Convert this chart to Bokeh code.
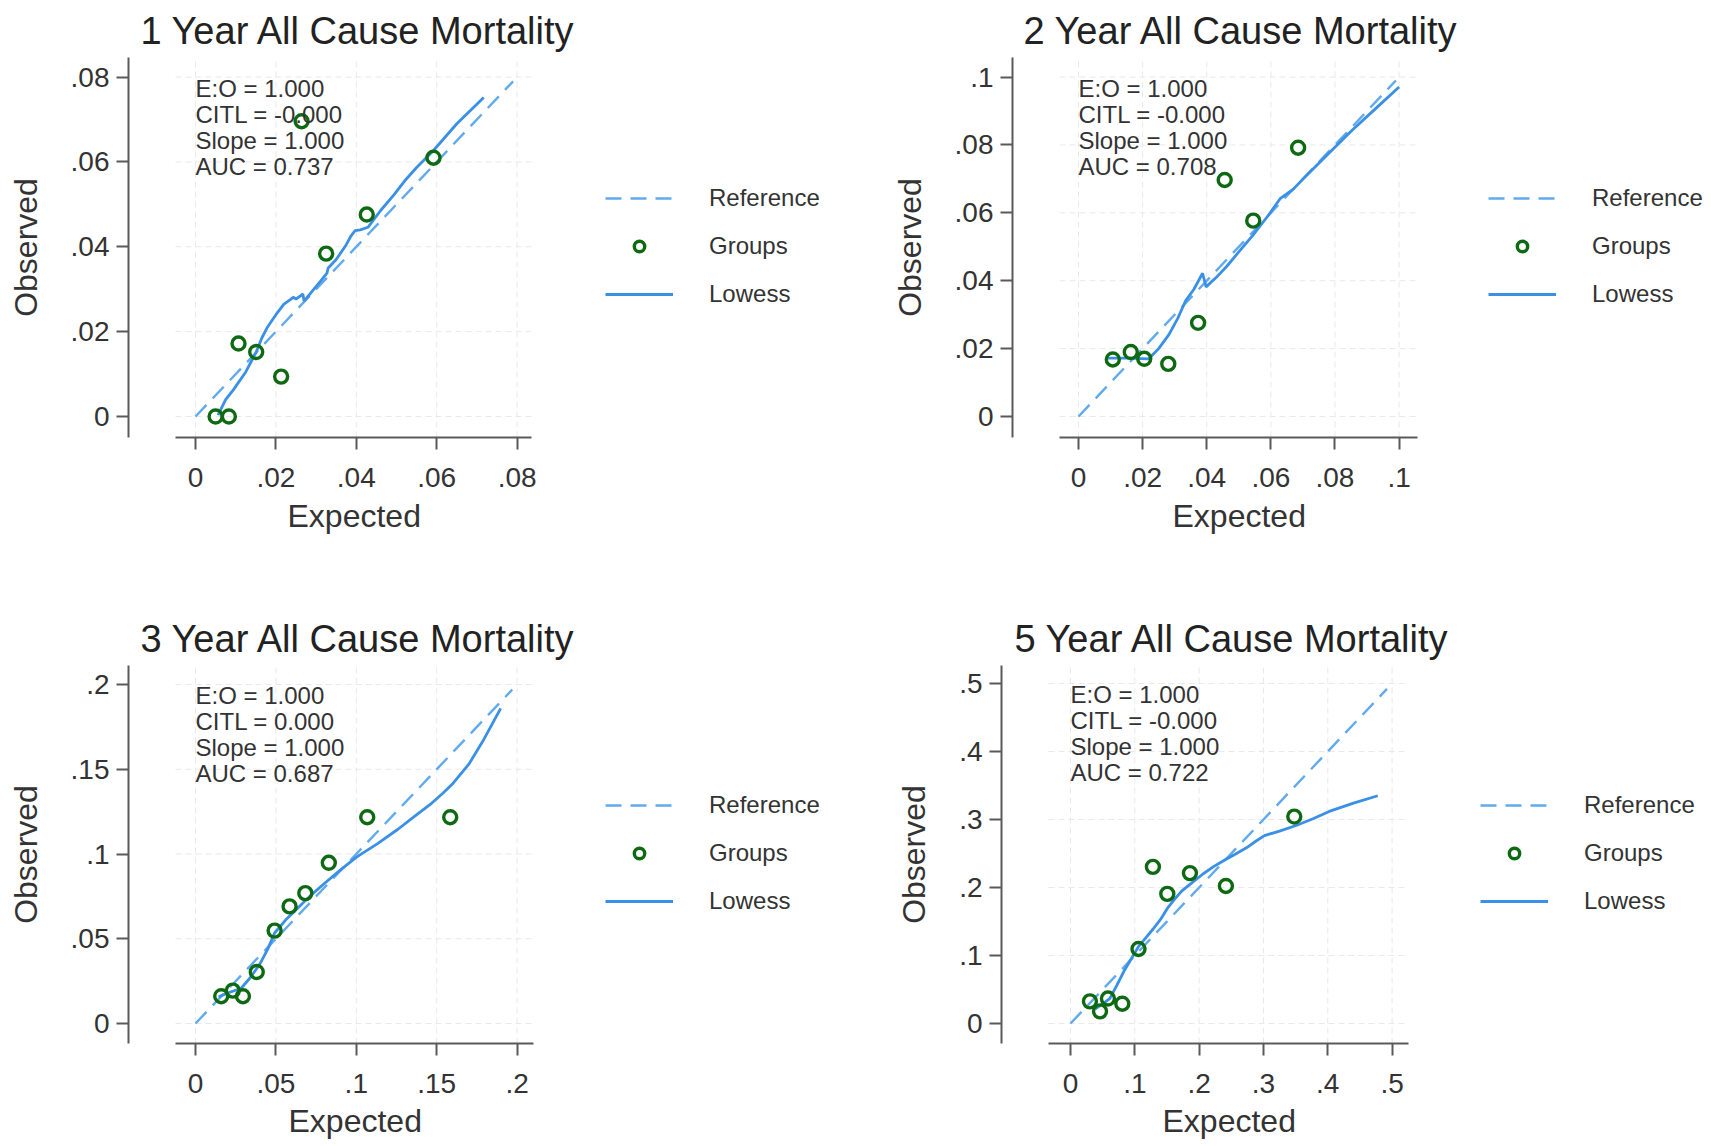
from bokeh.plotting import figure
from bokeh.models import FixedTicker, Label, Legend, LegendItem, Range1d, Title
from bokeh.layouts import column, row
from bokeh.embed import file_html
from bokeh.resources import INLINE

FONT = "Liberation Sans"

# ---------------- data ----------------
titles = ["1 Year All Cause Mortality", "2 Year All Cause Mortality",
          "3 Year All Cause Mortality", "5 Year All Cause Mortality"]
legend_labels = ["Reference", "Groups", "Lowess"]
x_axis_title = "Expected"
y_axis_title = "Observed"

# Panel 1 : 1 year
p1_ticks = [0, 0.02, 0.04, 0.06, 0.08]
p1_tick_labels = ["0", ".02", ".04", ".06", ".08"]
p1_group_expected = [0.0050, 0.0083, 0.0107, 0.0151, 0.0213, 0.0264, 0.0325, 0.0426, 0.0592]
p1_group_observed = [0.0000, 0.0000, 0.0172, 0.0152, 0.0094, 0.0696, 0.0384, 0.0476, 0.0610]
p1_lowess_expected = [0.0056, 0.0075, 0.0095, 0.0125, 0.0151, 0.0165, 0.0178, 0.0200, 0.0220,
                      0.0235, 0.0243, 0.0250, 0.0262, 0.0267, 0.0270, 0.0290, 0.0310, 0.0327,
                      0.0330, 0.0350, 0.0375, 0.0387, 0.0397, 0.0410, 0.0429, 0.0460, 0.0494,
                      0.0520, 0.0550, 0.0592, 0.0650, 0.0717]
p1_lowess_observed = [0.0003, 0.0040, 0.0064, 0.0105, 0.0152, 0.0185, 0.0209, 0.0240, 0.0265,
                      0.0275, 0.0281, 0.0277, 0.0285, 0.0289, 0.0272, 0.0295, 0.0318, 0.0338,
                      0.0350, 0.0370, 0.0405, 0.0426, 0.0438, 0.0440, 0.0446, 0.0485, 0.0523,
                      0.0555, 0.0587, 0.0627, 0.0690, 0.0752]
p1_reference = [0.0, 0.079]
p1_stats = ["E:O = 1.000", "CITL = -0.000", "Slope = 1.000", "AUC = 0.737"]

# Panel 2 : 2 year
p2_ticks = [0, 0.02, 0.04, 0.06, 0.08, 0.1]
p2_tick_labels = ["0", ".02", ".04", ".06", ".08", ".1"]
p2_group_expected = [0.0107, 0.0163, 0.0205, 0.0280, 0.0373, 0.0456, 0.0545, 0.0685]
p2_group_observed = [0.0168, 0.0190, 0.0170, 0.0155, 0.0276, 0.0697, 0.0577, 0.0792]
p2_lowess_expected = [0.0086, 0.0150, 0.0219, 0.0250, 0.0282, 0.0310, 0.0334, 0.0360, 0.0387,
                      0.0398, 0.0430, 0.0462, 0.0500, 0.0543, 0.0590, 0.0630, 0.0670, 0.0705,
                      0.0780, 0.0855, 0.0930, 0.1000]
p2_lowess_observed = [0.0172, 0.0172, 0.0170, 0.0200, 0.0241, 0.0290, 0.0341, 0.0375, 0.0422,
                      0.0382, 0.0410, 0.0442, 0.0485, 0.0533, 0.0590, 0.0643, 0.0670, 0.0704,
                      0.0775, 0.0845, 0.0910, 0.0971]
p2_reference = [0.0, 0.099]
p2_stats = ["E:O = 1.000", "CITL = -0.000", "Slope = 1.000", "AUC = 0.708"]

# Panel 3 : 3 year
p3_ticks = [0, 0.05, 0.1, 0.15, 0.2]
p3_tick_labels = ["0", ".05", ".1", ".15", ".2"]
p3_group_expected = [0.0160, 0.0232, 0.0295, 0.0381, 0.0492, 0.0585, 0.0683, 0.0829, 0.1068, 0.1584]
p3_group_observed = [0.0161, 0.0194, 0.0161, 0.0304, 0.0548, 0.0691, 0.0769, 0.0948, 0.1217, 0.1217]
p3_lowess_expected = [0.0144, 0.0200, 0.0284, 0.0340, 0.0400, 0.0450, 0.0492, 0.0560, 0.0632,
                      0.0710, 0.0794, 0.0900, 0.1003, 0.1130, 0.1259, 0.1360, 0.1468, 0.1540,
                      0.1596, 0.1700, 0.1793, 0.1898]
p3_lowess_observed = [0.0157, 0.0180, 0.0208, 0.0270, 0.0350, 0.0440, 0.0534, 0.0610, 0.0677,
                      0.0750, 0.0820, 0.0905, 0.0983, 0.1060, 0.1146, 0.1220, 0.1299, 0.1360,
                      0.1411, 0.1530, 0.1676, 0.1859]
p3_reference = [0.0, 0.197]
p3_stats = ["E:O = 1.000", "CITL = 0.000", "Slope = 1.000", "AUC = 0.687"]

# Panel 4 : 5 year
p4_ticks = [0, 0.1, 0.2, 0.3, 0.4, 0.5]
p4_tick_labels = ["0", ".1", ".2", ".3", ".4", ".5"]
p4_group_expected = [0.0302, 0.0459, 0.0582, 0.0805, 0.1057, 0.1281, 0.1505, 0.1857, 0.2416, 0.3479]
p4_group_observed = [0.0326, 0.0179, 0.0367, 0.0291, 0.1096, 0.2304, 0.1906, 0.2212, 0.2023, 0.3043]
p4_lowess_expected = [0.0386, 0.0500, 0.0610, 0.0720, 0.0834, 0.0950, 0.1057, 0.1170, 0.1281,
                      0.1400, 0.1505, 0.1620, 0.1728, 0.1900, 0.2064, 0.2230, 0.2399, 0.2560,
                      0.2735, 0.2880, 0.3015, 0.3250, 0.3518, 0.3770, 0.4022, 0.4400, 0.4777]
p4_lowess_observed = [0.0214, 0.0290, 0.0367, 0.0560, 0.0775, 0.0960, 0.1131, 0.1260, 0.1386,
                      0.1530, 0.1692, 0.1830, 0.1947, 0.2080, 0.2202, 0.2310, 0.2405, 0.2490,
                      0.2584, 0.2680, 0.2763, 0.2830, 0.2916, 0.3010, 0.3119, 0.3240, 0.3349]
p4_reference = [0.0, 0.492]
p4_stats = ["E:O = 1.000", "CITL = -0.000", "Slope = 1.000", "AUC = 0.722"]

panels_data = [
    (p1_ticks, p1_tick_labels, p1_group_expected, p1_group_observed,
     p1_lowess_expected, p1_lowess_observed, p1_reference, p1_stats),
    (p2_ticks, p2_tick_labels, p2_group_expected, p2_group_observed,
     p2_lowess_expected, p2_lowess_observed, p2_reference, p2_stats),
    (p3_ticks, p3_tick_labels, p3_group_expected, p3_group_observed,
     p3_lowess_expected, p3_lowess_observed, p3_reference, p3_stats),
    (p4_ticks, p4_tick_labels, p4_group_expected, p4_group_observed,
     p4_lowess_expected, p4_lowess_observed, p4_reference, p4_stats),
]

# ---------------- layout (pixels) ----------------
# fw/fh: figure size; left/top: frame offset; w: frame width (incl. legend area);
# h: frame height; wp: plot-region width; x0/xT: px of 0 / last tick from frame left;
# xa: x-axis start px; y0/yT: px of 0 / last tick from frame bottom;
# xs: standoff of the x title
layouts = [
    dict(fw=858, fh=573, left=128, top=57, w=720, h=380, wp=403, x0=67, xT=388.6, xa=47,
         y0=21, yT=360.4, toff=12, leg=(477, 128), xs=13),
    dict(fw=858, fh=573, left=154, top=57, w=700, h=380, wp=405, x0=66, xT=386.6, xa=47,
         y0=21, yT=360.4, toff=11, leg=(476, 128), xs=13),
    dict(fw=858, fh=573, left=128, top=92, w=720, h=378, wp=405, x0=67, xT=388.6, xa=47,
         y0=20, yT=359, toff=12, leg=(477, 127), xs=10),
    dict(fw=858, fh=573, left=143, top=92, w=711, h=378, wp=407, x0=69, xT=390.6, xa=47,
         y0=20, yT=360, toff=13, leg=(479, 127), xs=10),
]
XLABEL_HALF_WIDTH = 66  # half width of the "Expected" label in px

TEXT = "#333333"
AXIS = "#5a5a5a"
GRID = "#e9e9e9"
REF_COLOR = "#62aaee"
LOW_COLOR = "#3a8fe6"
GRP_COLOR = "#0e6a12"


def make_panel(title, data, lay):
    ticks, labels, gx, gy, lx, ly, ref, stats = data
    T = ticks[-1]
    sx = (lay["xT"] - lay["x0"]) / T
    sy = (lay["yT"] - lay["y0"]) / T
    x_start = -lay["x0"] / sx
    x_end = (lay["w"] - lay["x0"]) / sx
    x_region_start = (lay["xa"] - lay["x0"]) / sx
    x_region_end = (lay["wp"] - lay["x0"]) / sx
    y_start = -lay["y0"] / sy
    y_end = (lay["h"] - lay["y0"]) / sy

    p = figure(frame_width=lay["w"], frame_height=lay["h"],
               x_range=Range1d(x_start, x_end), y_range=Range1d(y_start, y_end),
               min_border_left=lay["left"], min_border_top=lay["top"],
               min_border_right=lay["fw"] - lay["left"] - lay["w"],
               min_border_bottom=lay["fh"] - lay["top"] - lay["h"],
               output_backend="svg", toolbar_location=None,
               outline_line_color=None, background_fill_color="white",
               border_fill_color="white")
    p.xgrid.visible = False
    p.ygrid.visible = False

    p.title.text = title
    p.title.text_font = FONT
    p.title.text_font_size = "38px"
    p.title.text_font_style = "normal"
    p.title.text_color = "#222222"
    p.title.align = "left"
    p.title.offset = lay["toff"]
    p.title.standoff = 12

    for ax in (p.xaxis[0], p.yaxis[0]):
        ax.ticker = FixedTicker(ticks=ticks)
        ax.major_label_overrides = {t: l for t, l in zip(ticks, labels)}
        ax.minor_tick_line_color = None
        ax.major_tick_in = 0
        ax.major_tick_out = 12
        ax.major_tick_line_color = AXIS
        ax.major_tick_line_width = 2
        ax.axis_line_color = AXIS
        ax.axis_line_width = 2
        ax.major_label_text_font = FONT
        ax.major_label_text_font_size = "28px"
        ax.major_label_text_color = TEXT
        ax.axis_label_text_font = FONT
        ax.axis_label_text_font_size = "32px"
        ax.axis_label_text_font_style = "normal"
        ax.axis_label_text_color = TEXT
    p.yaxis.axis_label = y_axis_title
    p.xaxis.bounds = (x_region_start, x_region_end)
    p.xaxis.major_label_standoff = 18
    p.yaxis.major_label_standoff = 7
    p.yaxis.axis_label_standoff = 24

    # x-axis title centred under the plot region (not under the legend area)
    p.add_layout(Title(text=x_axis_title, align="left",
                       offset=(lay["xa"] + lay["wp"]) / 2 - XLABEL_HALF_WIDTH,
                       standoff=lay["xs"], text_font=FONT, text_font_size="32px",
                       text_font_style="normal", text_color=TEXT), "below")

    # light dashed grid limited to the plot region
    n = len(ticks)
    p.segment(x0=ticks, y0=[y_start] * n, x1=ticks, y1=[y_end] * n,
              line_color=GRID, line_width=1, line_dash="6 4")
    p.segment(x0=[x_region_start] * n, y0=ticks, x1=[x_region_end] * n, y1=ticks,
              line_color=GRID, line_width=1, line_dash="6 4")

    r_ref = p.line(ref, ref, line_color=REF_COLOR, line_width=2.4, line_dash="16 9")
    r_low = p.line(lx, ly, line_color=LOW_COLOR, line_width=2.8)
    r_grp = p.scatter(gx, gy, marker="circle", size=13, fill_color=None,
                      line_color=GRP_COLOR, line_width=3.4)

    for i, s in enumerate(stats):
        p.add_layout(Label(x=0, y=T, x_units="data", y_units="data", text=s,
                           y_offset=-(11 + 26 * i), text_baseline="middle",
                           text_align="left", text_font=FONT,
                           text_font_size="24px", text_color=TEXT))

    legend = Legend(items=[LegendItem(label=legend_labels[0], renderers=[r_ref]),
                           LegendItem(label=legend_labels[1], renderers=[r_grp]),
                           LegendItem(label=legend_labels[2], renderers=[r_low])],
                    location=lay["leg"], orientation="vertical",
                    glyph_width=68, glyph_height=26, label_height=30,
                    spacing=18, padding=0, margin=0, label_standoff=36,
                    border_line_color=None, background_fill_alpha=0,
                    label_text_font=FONT, label_text_font_size="24px",
                    label_text_color=TEXT)
    p.add_layout(legend)
    return p


figs = [make_panel(t, d, l) for t, d, l in zip(titles, panels_data, layouts)]
layout = column(row(figs[0], figs[1]), row(figs[2], figs[3]))

open("out.html", "w").write(file_html(layout, INLINE))
